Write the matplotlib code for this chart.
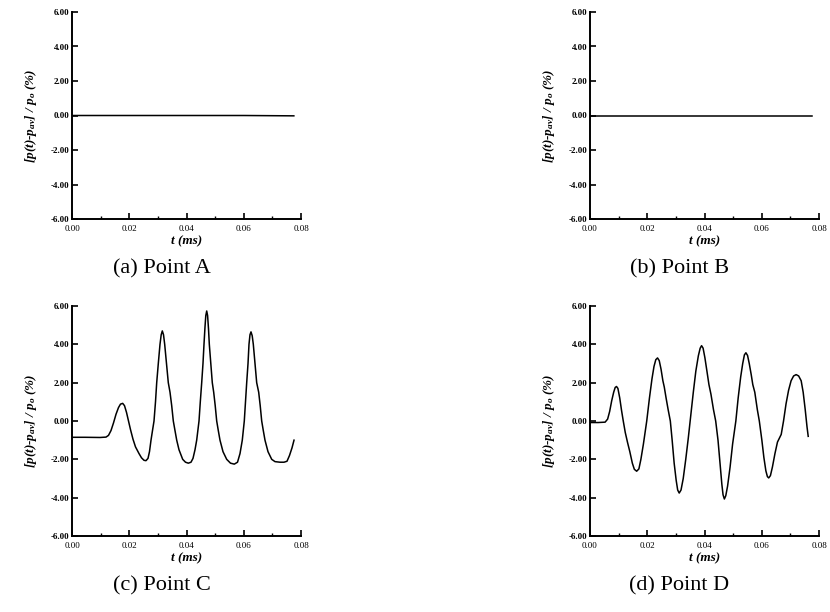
import numpy as np
import matplotlib
matplotlib.use("Agg")
from matplotlib import pyplot as plt
from matplotlib.ticker import MultipleLocator, FormatStrFormatter

plt.rcParams['font.family'] = ['Liberation Serif', 'DejaVu Serif']
plt.rcParams['mathtext.fontset'] = 'custom'
plt.rcParams['mathtext.it'] = 'Liberation Serif:italic:bold'
plt.rcParams['mathtext.rm'] = 'Liberation Serif:bold'

# pressure fluctuation histories, t in ms, value in %
t_a = [0.0, 0.02, 0.04, 0.06, 0.0775]
p_a = [0.0, 0.0, 0.0, 0.0, -0.02]

t_b = [0.0, 0.02, 0.04, 0.06, 0.0775]
p_b = [0.0, 0.0, 0.0, 0.0, 0.0]

t_c = [0.0, 0.00454, 0.00978, 0.01188, 0.01275, 0.01362, 0.01450, 0.01537,
       0.01624, 0.01694, 0.01771, 0.01834, 0.01904, 0.01974, 0.02044, 0.02131,
       0.02218, 0.02271, 0.02341, 0.02428, 0.02515, 0.02585, 0.02655, 0.02707,
       0.02760, 0.02812, 0.02865, 0.02917, 0.02959, 0.03015, 0.03074, 0.03116,
       0.03155, 0.03197, 0.03238, 0.03301, 0.03364, 0.03424, 0.03483, 0.03539,
       0.03598, 0.03658, 0.03738, 0.03867, 0.03965, 0.04063, 0.04157, 0.04227,
       0.04297, 0.04356, 0.04437, 0.04482, 0.04531, 0.04576, 0.04611, 0.04646,
       0.04674, 0.04706, 0.04737, 0.04769, 0.04797, 0.04849, 0.04901, 0.04950,
       0.05003, 0.05055, 0.05111, 0.05170, 0.05275, 0.05404, 0.05537, 0.05670,
       0.05782, 0.05869, 0.05949, 0.06019, 0.06061, 0.06103, 0.06149, 0.06183,
       0.06218, 0.06253, 0.06295, 0.06334, 0.06393, 0.06452, 0.06522, 0.06575,
       0.06627, 0.06683, 0.06742, 0.06847, 0.06977, 0.07092, 0.07266, 0.07406,
       0.07511, 0.07598, 0.07686, 0.07756]
p_c = [-0.85, -0.85, -0.86, -0.84, -0.75, -0.5, -0.1, 0.35,
       0.7, 0.88, 0.92, 0.8, 0.45, 0.0, -0.45, -0.95,
       -1.35, -1.5, -1.7, -1.92, -2.05, -2.07, -1.95, -1.6,
       -1.0, -0.5, 0.0, 1.0, 2.0, 3.0, 4.0, 4.5,
       4.7, 4.5, 4.0, 3.0, 2.0, 1.5, 0.8, 0.0,
       -0.5, -1.0, -1.5, -2.0, -2.15, -2.2, -2.15, -1.95,
       -1.5, -1.0, 0.0, 1.0, 2.0, 3.0, 4.0, 4.9,
       5.5, 5.74, 5.5, 4.8, 4.0, 3.0, 2.0, 1.5,
       0.8, 0.0, -0.5, -1.0, -1.6, -2.0, -2.2, -2.25,
       -2.15, -1.7, -1.0, 0.0, 1.0, 2.0, 3.0, 4.0,
       4.5, 4.65, 4.45, 4.0, 3.0, 2.0, 1.5, 0.8,
       0.0, -0.5, -1.0, -1.6, -2.0, -2.12, -2.15, -2.15,
       -2.1, -1.8, -1.4, -1.0]

t_d = [0.0, 0.00282, 0.00528, 0.00616, 0.00687, 0.00757, 0.00827, 0.00880,
       0.00926, 0.00975, 0.01039, 0.01102, 0.01162, 0.01232, 0.01313, 0.01391,
       0.01479, 0.01549, 0.01630, 0.01708, 0.01778, 0.01866, 0.01982, 0.02077,
       0.02165, 0.02236, 0.02299, 0.02359, 0.02419, 0.02482, 0.02546, 0.02595,
       0.02658, 0.02729, 0.02806, 0.02870, 0.02940, 0.03011, 0.03063, 0.03116,
       0.03180, 0.03257, 0.03345, 0.03433, 0.03521, 0.03609, 0.03697, 0.03785,
       0.03849, 0.03898, 0.03951, 0.04014, 0.04085, 0.04155, 0.04225, 0.04313,
       0.04391, 0.04472, 0.04542, 0.04606, 0.04648, 0.04694, 0.04743, 0.04806,
       0.04894, 0.04982, 0.05095, 0.05176, 0.05264, 0.05335, 0.05394, 0.05447,
       0.05504, 0.05563, 0.05634, 0.05687, 0.05757, 0.05845, 0.05915, 0.06004,
       0.06074, 0.06144, 0.06197, 0.06243, 0.06303, 0.06373, 0.06461, 0.06549,
       0.06680, 0.06761, 0.06849, 0.06937, 0.07025, 0.07113, 0.07201, 0.07289,
       0.07377, 0.07447, 0.07518, 0.07581, 0.07623]
p_d = [-0.08, -0.08, -0.06, 0.1, 0.5, 1.05, 1.5, 1.75,
       1.8, 1.7, 1.2, 0.55, 0.0, -0.6, -1.13, -1.6,
       -2.2, -2.52, -2.62, -2.5, -2.0, -1.2, 0.0, 1.2,
       2.2, 2.85, 3.2, 3.29, 3.15, 2.7, 2.1, 1.77,
       1.2, 0.6, 0.0, -1.0, -2.2, -3.1, -3.6, -3.76,
       -3.6, -3.0, -2.0, -0.9, 0.3, 1.5, 2.6, 3.4,
       3.8, 3.93, 3.8, 3.3, 2.6, 1.9, 1.4, 0.6,
       0.0, -1.0, -2.2, -3.3, -3.85, -4.07, -3.9, -3.4,
       -2.4, -1.2, 0.0, 1.2, 2.3, 3.0, 3.45, 3.56,
       3.42, 3.0, 2.4, 1.9, 1.5, 0.6, 0.0, -1.0,
       -1.9, -2.6, -2.9, -2.97, -2.85, -2.4, -1.7, -1.1,
       -0.7, 0.0, 0.9, 1.6, 2.1, 2.35, 2.42, 2.35,
       2.1, 1.5, 0.6, -0.3, -0.8]

panels = [
    (t_a, p_a, '(a) Point A'),
    (t_b, p_b, '(b) Point B'),
    (t_c, p_c, '(c) Point C'),
    (t_d, p_d, '(d) Point D'),
]

W, H = 830, 612
# axes boxes in pixels: left, top, right, bottom
boxes = [(72, 12, 301, 219), (590, 12, 819, 219),
         (72, 306, 301, 536), (590, 306, 819, 536)]

fig = plt.figure(figsize=(W / 100, H / 100), dpi=100)

ylab = r'[p(t)-p$_{av}$] / p$_o$ (%)'

for (t, p, cap), (l, tp, r, b) in zip(panels, boxes):
    ax = fig.add_axes([l / W, 1 - b / H, (r - l) / W, (b - tp) / H])
    ax.plot(t, p, color='black', lw=1.1)
    ax.set_xlim(0.0, 0.08)
    ax.set_ylim(-6.0, 6.0)
    ax.spines['top'].set_visible(False)
    ax.spines['right'].set_visible(False)
    for s in ('left', 'bottom'):
        ax.spines[s].set_linewidth(1.4)
    ax.xaxis.set_major_locator(MultipleLocator(0.02))
    ax.xaxis.set_minor_locator(MultipleLocator(0.01))
    ax.yaxis.set_major_locator(MultipleLocator(2.0))
    ax.xaxis.set_major_formatter(FormatStrFormatter('%.2f'))
    ax.yaxis.set_major_formatter(FormatStrFormatter('%.2f'))
    ax.tick_params(which='major', direction='in', length=4, width=1.2,
                   labelsize=6.5)
    ax.tick_params(axis='x', which='major', pad=4)
    ax.tick_params(axis='y', which='major', pad=2)
    ax.tick_params(which='minor', direction='in', length=2.5, width=1.0)
    for lab in ax.get_yticklabels():
        lab.set_fontweight('bold')
    ax.set_xlabel('t (ms)', fontsize=9.5, fontstyle='italic',
                  fontweight='bold', labelpad=2)
    ax.set_ylabel(ylab, fontsize=9.5, fontstyle='italic',
                  fontweight='bold', labelpad=8)
    cx = (l + r) / 2 - 25
    fig.text(cx / W, 1 - (b + 50) / H, cap, fontsize=16,
             ha='center', va='center')

fig.savefig('out.png', dpi=100)
